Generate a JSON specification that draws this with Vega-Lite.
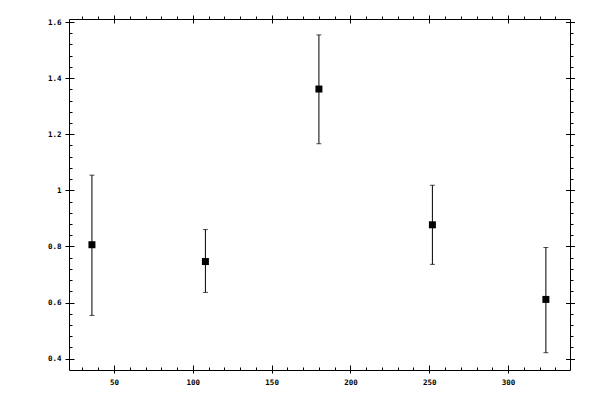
{
  "$schema": "https://vega.github.io/schema/vega-lite/v6.json",
  "autosize": "none",
  "padding": {"left": 69, "top": 19, "right": 30, "bottom": 30},
  "width": 501,
  "height": 351,
  "background": "white",
  "config": {
    "view": {"stroke": "black", "strokeWidth": 1},
    "axis": {
      "domain": false,
      "grid": false,
      "tickColor": "black",
      "tickWidth": 1,
      "labelFont": "DejaVu Sans Mono",
      "labelFontSize": 7.5,
      "labelFontWeight": "bold",
      "labelColor": "black",
      "title": null
    }
  },
  "data": {
    "values": [
      {"x": 36, "v": 0.806, "lo": 0.554, "hi": 1.054},
      {"x": 108, "v": 0.746, "lo": 0.636, "hi": 0.860},
      {"x": 180, "v": 1.361, "lo": 1.166, "hi": 1.554},
      {"x": 252, "v": 0.877, "lo": 0.736, "hi": 1.018},
      {"x": 324, "v": 0.611, "lo": 0.421, "hi": 0.796}
    ]
  },
  "resolve": {"axis": {"x": "independent", "y": "independent"}},
  "layer": [
    {
      "mark": {"type": "rule", "color": "black", "strokeWidth": 1},
      "encoding": {
        "x": {"field": "x", "type": "quantitative",
          "scale": {"domain": [21.45, 339.3], "nice": false, "zero": false},
          "axis": {"orient": "bottom", "values": [50, 100, 150, 200, 250, 300], "tickSize": 8, "offset": -5, "labelPadding": 5, "format": "d"}},
        "y": {"field": "lo", "type": "quantitative",
          "scale": {"domain": [0.3594, 1.6107], "nice": false, "zero": false},
          "axis": {"orient": "left", "values": [0.4, 0.6, 0.8, 1, 1.2, 1.4, 1.6], "tickSize": 9, "offset": -5, "labelPadding": 4, "format": "~g"}},
        "y2": {"field": "hi"}
      }
    },
    {
      "mark": {"type": "tick", "orient": "horizontal", "color": "black", "size": 5, "thickness": 1},
      "encoding": {
        "x": {"field": "x", "type": "quantitative",
          "axis": {"orient": "bottom", "values": [30, 40, 50, 60, 70, 80, 90, 100, 110, 120, 130, 140, 150, 160, 170, 180, 190, 200, 210, 220, 230, 240, 250, 260, 270, 280, 290, 300, 310, 320, 330], "tickSize": 3, "offset": -3, "labels": false}},
        "y": {"field": "hi", "type": "quantitative",
          "axis": {"orient": "left", "values": [0.4, 0.44, 0.48, 0.52, 0.56, 0.6, 0.64, 0.68, 0.72, 0.76, 0.8, 0.84, 0.88, 0.92, 0.96, 1, 1.04, 1.08, 1.12, 1.16, 1.2, 1.24, 1.28, 1.32, 1.36, 1.4, 1.44, 1.48, 1.52, 1.56, 1.6], "tickSize": 3, "offset": -3, "labels": false}}
      }
    },
    {
      "mark": {"type": "tick", "orient": "horizontal", "color": "black", "size": 5, "thickness": 1},
      "encoding": {
        "x": {"field": "x", "type": "quantitative",
          "axis": {"orient": "top", "values": [50, 100, 150, 200, 250, 300], "tickSize": 8, "offset": -4, "labels": false}},
        "y": {"field": "lo", "type": "quantitative",
          "axis": {"orient": "right", "values": [0.4, 0.6, 0.8, 1, 1.2, 1.4, 1.6], "tickSize": 9, "offset": -4.5, "labels": false}}
      }
    },
    {
      "mark": {"type": "square", "color": "black", "opacity": 1, "filled": true, "size": 49},
      "encoding": {
        "x": {"field": "x", "type": "quantitative",
          "axis": {"orient": "top", "values": [30, 40, 50, 60, 70, 80, 90, 100, 110, 120, 130, 140, 150, 160, 170, 180, 190, 200, 210, 220, 230, 240, 250, 260, 270, 280, 290, 300, 310, 320, 330], "tickSize": 3, "offset": 0, "labels": false}},
        "y": {"field": "v", "type": "quantitative",
          "axis": {"orient": "right", "values": [0.4, 0.44, 0.48, 0.52, 0.56, 0.6, 0.64, 0.68, 0.72, 0.76, 0.8, 0.84, 0.88, 0.92, 0.96, 1, 1.04, 1.08, 1.12, 1.16, 1.2, 1.24, 1.28, 1.32, 1.36, 1.4, 1.44, 1.48, 1.52, 1.56, 1.6], "tickSize": 3, "offset": 0, "labels": false}}
      }
    }
  ]
}
